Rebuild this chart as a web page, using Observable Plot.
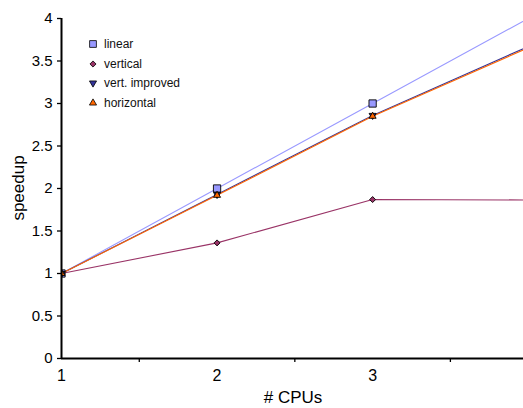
<!DOCTYPE html>
<html><head><meta charset="utf-8">
<script src="https://cdn.jsdelivr.net/npm/d3@7"></script>
<script src="https://cdn.jsdelivr.net/npm/@observablehq/plot@0.6"></script>
<style>
body{margin:0;background:#fff;overflow:hidden;font-family:"Liberation Sans",Arial,sans-serif}
#wrap{position:relative;width:523px;height:408px;overflow:hidden}
#wrap svg{display:block;overflow:hidden}
.ylab{position:absolute;left:19px;top:188px;transform:translate(-50%,-50%) rotate(-90deg);font-size:17px;color:#000;white-space:nowrap}
.xlab{position:absolute;left:293px;top:398px;transform:translate(-50%,-50%);font-size:17px;color:#000;white-space:nowrap}
.legend{position:absolute;left:87px;top:34px;font-size:12px;color:#111}
.legend .row{height:19.7px;display:flex;align-items:center}
.legend svg{width:12px;height:12px;margin-right:5px}
</style></head><body><div id="wrap"></div>
<script>
// ---- data ----
const cpus = [1, 2, 3, 4];
const linear = [1, 2, 3, 4];
const vertical = [1, 1.36, 1.87, 1.865];
const vertImproved = [1, 1.93, 2.86, 3.67];
const horizontal = [1, 1.92, 2.85, 3.655];
const seriesNames = ["linear", "vertical", "vert. improved", "horizontal"];
const seriesValues = [linear, vertical, vertImproved, horizontal];
const colors = ["#9999FF", "#993366", "#333399", "#FF6600"];
const symbols = ["square", "diamond2", "triangle", "triangle"];
const rotations = [0, 0, 180, 0];
const yTicks = [0, 0.5, 1, 1.5, 2, 2.5, 3, 3.5, 4];
const xLabels = [1, 2, 3];
const xTickMarks = [1.5, 2.5, 3.5];
const xTitle = "# CPUs";
const yTitle = "speedup";

const rows = seriesNames.flatMap((s, i) => cpus.map((c, j) => ({series: s, cpus: c, speedup: seriesValues[i][j]})));
const markerR = [4.1, 2.7, 2.6, 2.6];

const marks = [];
seriesNames.forEach((s, i) => {
  const d = rows.filter(r => r.series === s);
  marks.push(Plot.line(d, {x: "cpus", y: "speedup", stroke: colors[i], strokeWidth: 1.1, clip: true}));
});
seriesNames.forEach((s, i) => {
  const d = rows.filter(r => r.series === s);
  marks.push(Plot.dot(d, {x: "cpus", y: "speedup", symbol: () => symbols[i], fill: colors[i], stroke: "#000", strokeWidth: 0.9, r: markerR[i], rotate: rotations[i], clip: true}));
});

const chart = Plot.plot({
  width: 523,
  height: 408,
  marginLeft: 61,
  marginRight: 0,
  marginTop: 18,
  marginBottom: 50,
  style: {fontFamily: '"Liberation Sans", Arial, sans-serif', color: "#000", background: "#fff"},
  x: {type: "linear", domain: [1, 3.97]},
  y: {domain: [0, 4]},
  symbol: {type: "identity"},
  marks: [
    Plot.axisY({ticks: yTicks, tickSize: 4, tickPadding: 5, fontSize: 15, label: null, tickFormat: d => String(d), strokeWidth: 1.3}),
    Plot.axisX({ticks: xLabels, tickSize: 0, tickPadding: 11, fontSize: 16, label: null, tickFormat: d => String(d)}),
    Plot.axisX({ticks: xTickMarks, tickSize: 4, label: null, tickFormat: () => "", strokeWidth: 1.3}),
    ...marks,
    Plot.ruleY([0], {stroke: "#000", strokeWidth: 2}),
    Plot.ruleX([1], {stroke: "#000", strokeWidth: 2})
  ]
});
const wrap = document.getElementById("wrap");
wrap.appendChild(chart);

const yl = document.createElement("div"); yl.className = "ylab"; yl.textContent = yTitle; wrap.appendChild(yl);
const xl = document.createElement("div"); xl.className = "xlab"; xl.textContent = xTitle; wrap.appendChild(xl);

const leg = document.createElement("div"); leg.className = "legend";
const legSizes = [46, 24, 22, 22];
seriesNames.forEach((s, i) => {
  const row = document.createElement("div"); row.className = "row";
  const sym = d3.symbol().type({square: d3.symbolSquare, diamond2: d3.symbolDiamond2, triangle: d3.symbolTriangle}[symbols[i]]).size(legSizes[i])();
  row.innerHTML = `<svg viewBox="-6 -6 12 12"><path d="${sym}" transform="rotate(${rotations[i]})" fill="${colors[i]}" stroke="#000" stroke-width="0.8"/></svg><span>${s}</span>`;
  leg.appendChild(row);
});
wrap.appendChild(leg);
</script></body></html>
